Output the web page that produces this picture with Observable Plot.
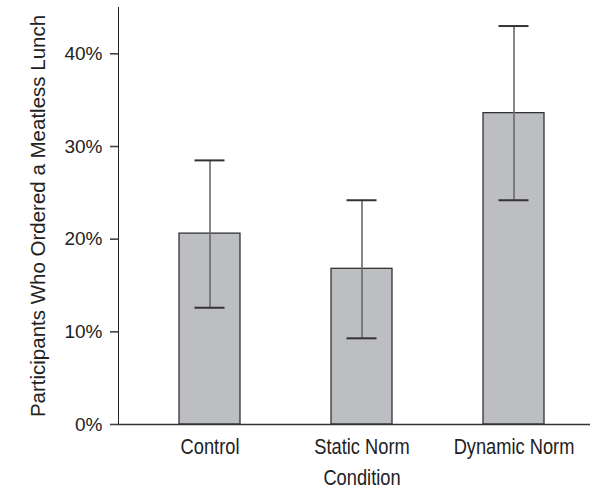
<!DOCTYPE html>
<html>
<head>
<meta charset="utf-8">
<script src="https://cdn.jsdelivr.net/npm/d3@7"></script>
<script src="https://cdn.jsdelivr.net/npm/@observablehq/plot@0.6"></script>
<style>
  html, body { margin: 0; padding: 0; background: #fff; }
</style>
</head>
<body>
<div id="chart"></div>
<script>
const conditions = ["Control", "Static Norm", "Dynamic Norm"];
const percentages = [20.6, 16.8, 33.6];
const errorLow = [12.6, 9.3, 24.2];
const errorHigh = [28.5, 24.2, 43.0];
const yTicks = [0, 10, 20, 30, 40];
const yLabel = "Participants Who Ordered a Meatless Lunch";
const xLabel = "Condition";

const data = conditions.map((c, i) => ({
  condition: c, value: percentages[i], lo: errorLow[i], hi: errorHigh[i]
}));

const W = 590, ML = 118, MR = 0;
const chart = Plot.plot({
  width: W,
  height: 490,
  marginLeft: ML,
  marginRight: MR,
  marginTop: 7,
  marginBottom: 66,
  style: {fontFamily: '"Liberation Sans", Arial, sans-serif', color: "#222", background: "#fff"},
  x: {domain: conditions, paddingInner: 0.6, paddingOuter: 0.3526, align: 0.57,
      tickSize: 0, tickPadding: 14, label: xLabel, labelAnchor: "center", labelOffset: 60, labelArrow: "none"},
  y: {domain: [0, 45], ticks: yTicks, tickFormat: d => d + "%", tickSize: 8, tickPadding: 8,
      line: true, label: yLabel, labelAnchor: "center", labelOffset: 88, labelArrow: "none"},
  marks: [
    Plot.barY(data, {x: "condition", y: "value", fill: "#bdbec2", stroke: "#333", strokeWidth: 1.3}),
    Plot.ruleX(data, {x: "condition", y1: "lo", y2: "hi", stroke: "#6a6a6a", strokeWidth: 1.6}),
    Plot.tickY(data, {x: "condition", y: "hi", stroke: "#333", strokeWidth: 2, insetLeft: 15.5, insetRight: 15.5}),
    Plot.tickY(data, {x: "condition", y: "lo", stroke: "#333", strokeWidth: 2, insetLeft: 15.5, insetRight: 15.5}),
    Plot.ruleY([0], {stroke: "#333", strokeWidth: 1.6})
  ]
});

function setSize(sel, size) {
  chart.querySelectorAll(sel).forEach(g => {
    g.setAttribute("font-size", size);
    g.querySelectorAll("text").forEach(t => t.setAttribute("font-size", size));
  });
}
setSize("g[aria-label='y-axis tick label']", 19);
setSize("g[aria-label='x-axis tick label']", 22);
setSize("g[aria-label='y-axis label']", 20.5);
setSize("g[aria-label='x-axis label']", 22);
chart.querySelectorAll("g[aria-label='y-axis label'] text").forEach(t => { t.textContent = yLabel; });
chart.querySelectorAll("g[aria-label='x-axis label'] text").forEach(t => { t.textContent = xLabel; });
chart.querySelectorAll("g[aria-label='y-axis tick'], g[aria-label='y-axis'] path, g[aria-label='y-axis'] line").forEach(p => {
  p.setAttribute("stroke", "#444"); p.setAttribute("stroke-width", 1.6);
});

// centre the x-axis title on the middle band, as in the reference
const xs = chart.scale("x");
const target = xs.apply(conditions[1]) + xs.bandwidth / 2;
const current = (ML + (W - MR)) / 2;
chart.querySelectorAll("g[aria-label='x-axis label']").forEach(g => {
  const prev = g.getAttribute("transform") || "";
  g.setAttribute("transform", `translate(${target - current},0) ${prev}`);
});

document.getElementById("chart").appendChild(chart);

// condensed typeface look for the category labels and x title
chart.querySelectorAll("g[aria-label='x-axis tick label'] text, g[aria-label='x-axis label'] text").forEach(t => {
  const len = t.getComputedTextLength();
  t.setAttribute("textLength", (len * 0.83).toFixed(1));
  t.setAttribute("lengthAdjust", "spacingAndGlyphs");
});
</script>
</body>
</html>
